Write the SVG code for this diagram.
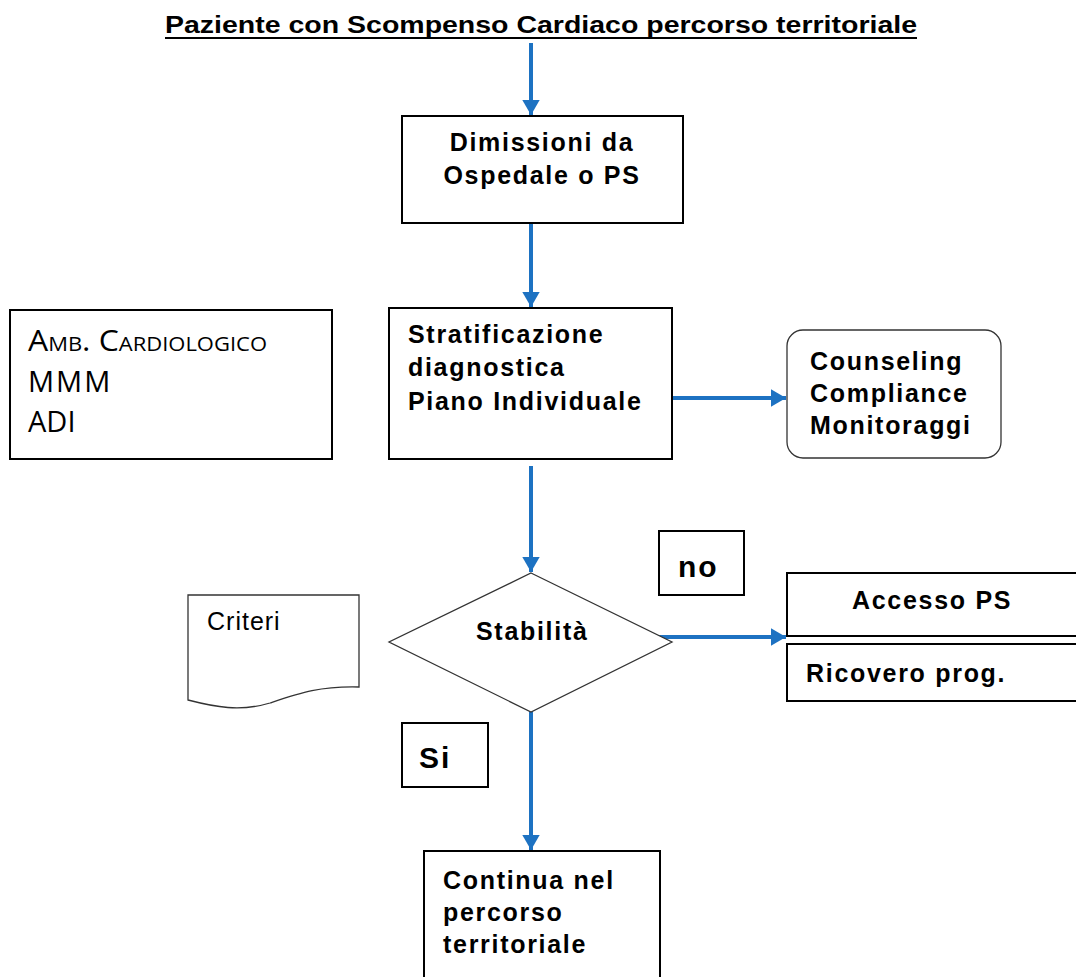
<svg xmlns="http://www.w3.org/2000/svg" width="1076" height="977" viewBox="0 0 1076 977">
<style>
.box{fill:#fff;stroke:#000;stroke-width:2}
.thin{fill:#fff;stroke:#333;stroke-width:1.3}
.b{font-family:"Liberation Sans",Arial,sans-serif;font-weight:bold;font-size:25px;letter-spacing:1.7px;fill:#000}
.big{font-size:30px;letter-spacing:2px}
.r{font-family:"Liberation Sans",Arial,sans-serif;font-size:25px;letter-spacing:1px;fill:#000}
.c{font-family:"Open Sans","Noto Sans",sans-serif;font-size:29px;fill:#000}
.conn{stroke:#1d72c2;stroke-width:4;fill:none}
</style>
<defs>
<marker id="ah" markerWidth="3.8" markerHeight="4.4" refX="3.8" refY="2.2" orient="auto" markerUnits="strokeWidth">
<path d="M0,0 L3.8,2.2 L0,4.4 z" fill="#1d72c2"/>
</marker>
</defs>
<g id="title">
<text x="541" y="33" text-anchor="middle" textLength="752" lengthAdjust="spacingAndGlyphs" style="font-family:'Liberation Sans',Arial,sans-serif;font-weight:bold;font-size:23px">Paziente con Scompenso Cardiaco percorso territoriale</text>
<line x1="165" y1="38" x2="917" y2="38" stroke="#000" stroke-width="2"/>
</g>
<g id="connectors">
<line class="conn" x1="531" y1="43" x2="531" y2="115" marker-end="url(#ah)"/>
<line class="conn" x1="531" y1="224" x2="531" y2="307" marker-end="url(#ah)"/>
<line class="conn" x1="672" y1="398" x2="786" y2="398" marker-end="url(#ah)"/>
<line class="conn" x1="531" y1="466" x2="531" y2="572" marker-end="url(#ah)"/>
<line class="conn" x1="658" y1="637" x2="786" y2="637" marker-end="url(#ah)"/>
<line class="conn" x1="531" y1="712" x2="531" y2="850" marker-end="url(#ah)"/>
</g>
<g id="dimissioni">
<rect class="box" x="402" y="116" width="281" height="107"/>
<text class="b" x="542" y="151" text-anchor="middle">Dimissioni da</text>
<text class="b" x="542" y="184" text-anchor="middle">Ospedale o PS</text>
</g>
<g id="amb">
<rect class="box" x="10" y="310" width="322" height="149"/>
<text class="c" x="28" y="351" font-variant="small-caps" textLength="239" lengthAdjust="spacingAndGlyphs">Amb. Cardiologico</text>
<text class="c" x="28" y="392" style="letter-spacing:2px">MMM</text>
<text class="c" x="28" y="432">ADI</text>
</g>
<g id="stratificazione">
<rect class="box" x="389" y="308" width="283" height="151"/>
<text class="b" x="408" y="343">Stratificazione</text>
<text class="b" x="408" y="376">diagnostica</text>
<text class="b" x="408" y="410">Piano Individuale</text>
</g>
<g id="counseling">
<rect class="thin" x="787" y="330" width="214" height="128" rx="16"/>
<text class="b" x="810" y="370">Counseling</text>
<text class="b" x="810" y="402">Compliance</text>
<text class="b" x="810" y="434">Monitoraggi</text>
</g>
<g id="no">
<rect class="box" x="659" y="531" width="85" height="64"/>
<text class="b big" x="678" y="577">no</text>
</g>
<g id="stabilita">
<polygon class="thin" points="531,573 672,642 531,712 389,642"/>
<text class="b" x="476" y="640">Stabilità</text>
</g>
<g id="criteri">
<path class="thin" d="M188,595 L359,595 L359,687 C320,686 300,693 270,703 C240,712 215,707 188,700 Z"/>
<text class="r" x="207" y="630">Criteri</text>
</g>
<g id="accesso">
<rect class="box" x="787" y="573" width="295" height="63"/>
<text class="b" x="852" y="609">Accesso PS</text>
</g>
<g id="ricovero">
<rect class="box" x="787" y="644" width="295" height="57"/>
<text class="b" x="806" y="682">Ricovero prog.</text>
</g>
<g id="si">
<rect class="box" x="402" y="723" width="86" height="64"/>
<text class="b big" x="419" y="768">Si</text>
</g>
<g id="continua">
<rect class="box" x="424" y="851" width="236" height="135"/>
<text class="b" x="443" y="889">Continua nel</text>
<text class="b" x="443" y="921">percorso</text>
<text class="b" x="443" y="953">territoriale</text>
</g>
</svg>
